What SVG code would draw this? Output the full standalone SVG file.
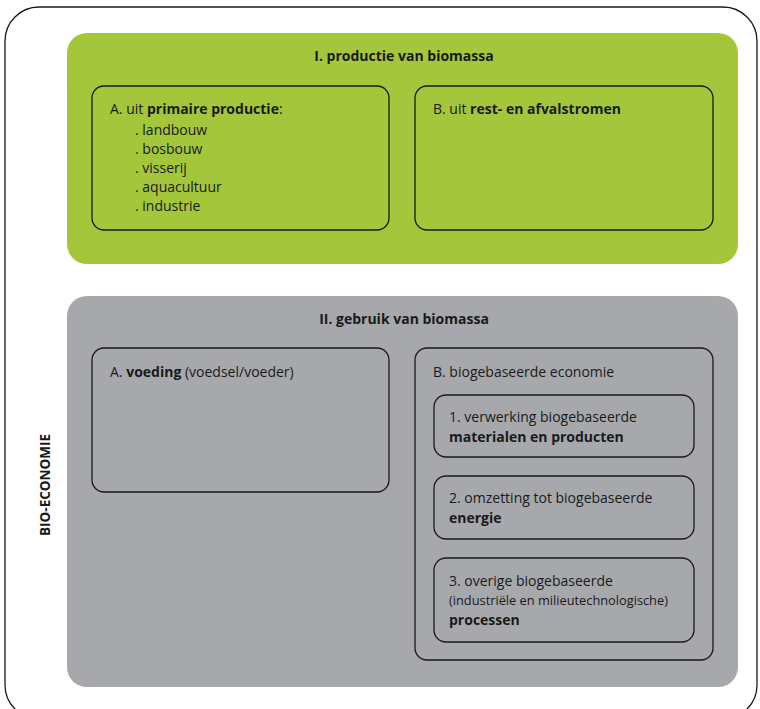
<svg xmlns="http://www.w3.org/2000/svg" width="760" height="709" viewBox="0 0 760 709">
<style>
text{font-family:"Open Sans","Noto Sans","DejaVu Sans",sans-serif;font-size:14px;fill:#1a1a1a}
.b{font-weight:bold}
.t{font-weight:bold;text-anchor:middle}
.box{fill:none;stroke:#1a1a1a;stroke-width:1.3}
.sm{font-size:12.8px}
</style>
<rect width="760" height="709" fill="#ffffff"/>
<g id="outer">
<rect x="5" y="7" width="752" height="712" rx="34" fill="#ffffff" stroke="#1a1a1a" stroke-width="1.3"/>
<text transform="translate(50,485) rotate(-90)" class="t" style="font-size:13.5px">BIO-ECONOMIE</text>
</g>
<g id="productie">
<rect x="67" y="33" width="671" height="231" rx="20" fill="#a3c63b"/>
<text x="404" y="61" class="t">I. productie van biomassa</text>
</g>
<g id="primaire">
<rect x="92" y="86" width="297" height="144" rx="12" class="box"/>
<text x="110" y="114">A. uit <tspan class="b">primaire productie</tspan>:</text>
<text x="135" y="135">. landbouw</text>
<text x="135" y="154">. bosbouw</text>
<text x="135" y="173">. visserij</text>
<text x="135" y="192">. aquacultuur</text>
<text x="135" y="211">. industrie</text>
</g>
<g id="rest">
<rect x="415" y="86" width="298" height="144" rx="12" class="box"/>
<text x="433" y="114">B. uit <tspan class="b">rest- en afvalstromen</tspan></text>
</g>
<g id="gebruik">
<rect x="67" y="296" width="671" height="391" rx="20" fill="#a7a8ab"/>
<text x="404" y="324" class="t">II. gebruik van biomassa</text>
</g>
<g id="voeding">
<rect x="92" y="348" width="297" height="144" rx="12" class="box"/>
<text x="110" y="377">A. <tspan class="b">voeding</tspan> (voedsel/voeder)</text>
</g>
<g id="biogebaseerd">
<rect x="415" y="348" width="298" height="312" rx="12" class="box"/>
<text x="433" y="377">B. biogebaseerde economie</text>
</g>
<g id="materialen">
<rect x="434" y="395" width="260" height="62" rx="12" class="box"/>
<text x="449" y="422">1. verwerking biogebaseerde</text>
<text x="449" y="442" class="b">materialen en producten</text>
</g>
<g id="energie">
<rect x="434" y="476" width="260" height="63" rx="12" class="box"/>
<text x="449" y="503">2. omzetting tot biogebaseerde</text>
<text x="449" y="523" class="b">energie</text>
</g>
<g id="processen">
<rect x="434" y="558" width="260" height="84" rx="12" class="box"/>
<text x="449" y="586">3. overige biogebaseerde</text>
<text x="449" y="605" class="sm">(industriële en milieutechnologische)</text>
<text x="449" y="625" class="b">processen</text>
</g>
<g id="connectors"/>
</svg>
